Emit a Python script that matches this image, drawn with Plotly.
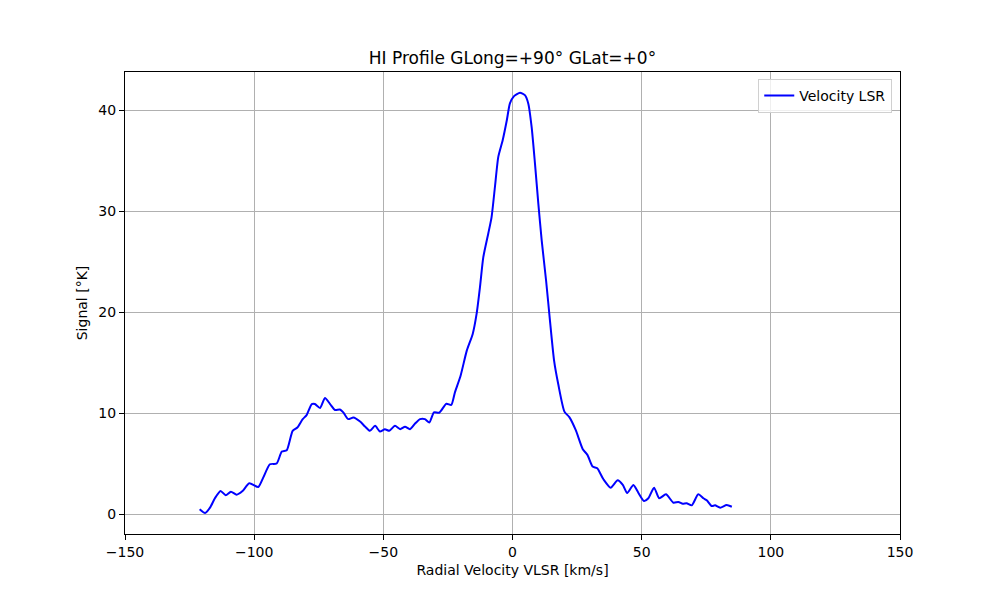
import plotly.graph_objects as go

# HI profile
velocity = [-121.1, -119.0, -117.1, -115.2, -113.0, -111.0, -109.0, -106.8, -104.5, -101.9,
            -98.4, -96.5, -93.9, -91.3, -89.3, -87.4, -85.1, -83.3, -81.2, -79.7,
            -77.7, -76.5, -74.5, -72.6, -70.6, -68.7, -66.8, -65.5, -63.6, -61.6,
            -59.0, -57.1, -55.2, -53.2, -51.3, -49.4, -47.7, -45.5, -43.5, -41.6,
            -39.7, -37.7, -35.8, -33.9, -32.2, -30.4, -28.4, -25.6, -23.7, -22.3,
            -20.1, -17.7, -15.4, -13.9, -12.6, -11.3, -9.4, -8.1, -6.8, -5.5,
            -3.8, -2.2, -1.0, 0.6, 2.9, 4.8, 6.1, 7.4, 8.7, 10.0,
            11.3, 13.0, 14.5, 16.1, 17.7, 20.1, 22.0, 24.5, 27.2, 29.0,
            31.0, 32.8, 35.2, 38.0, 40.7, 42.7, 44.4, 46.8, 48.7, 50.9,
            52.6, 54.8, 56.8, 59.4, 62.3, 64.2, 65.9, 67.4, 69.4, 71.9,
            73.9, 75.2, 77.1, 78.4, 80.4, 82.9, 84.9]
signal = [0.47, 0.1, 0.63, 1.56, 2.28, 1.85, 2.21, 1.92, 2.28, 3.04,
          2.68, 3.6, 4.93, 5.0, 6.18, 6.32, 8.24, 8.57, 9.4, 9.8,
          10.89, 10.89, 10.5, 11.48, 10.89, 10.3, 10.35, 10.06, 9.4, 9.56,
          9.16, 8.67, 8.24, 8.73, 8.17, 8.4, 8.24, 8.73, 8.4, 8.64,
          8.4, 8.96, 9.4, 9.4, 9.06, 10.06, 10.03, 10.92, 10.8, 12.04,
          13.7, 16.18, 17.84, 19.82, 22.46, 25.44, 27.76, 29.41, 32.39, 35.37,
          37.02, 39.0, 40.67, 41.39, 41.72, 41.49, 40.67, 38.34, 34.71, 30.74,
          27.1, 23.13, 19.16, 15.19, 12.87, 10.14, 9.6, 8.3, 6.42, 5.86,
          4.7, 4.53, 3.44, 2.61, 3.34, 2.88, 2.08, 2.88, 2.11, 1.29,
          1.56, 2.61, 1.56, 1.95, 1.12, 1.19, 1.02, 1.06, 0.86, 1.95,
          1.56, 1.36, 0.79, 0.86, 0.63, 0.89, 0.72]

x_ticks = [-150, -100, -50, 0, 50, 100, 150]
y_ticks = [0, 10, 20, 30, 40]

fig = go.Figure()
fig.add_trace(go.Scatter(
    x=velocity, y=signal,
    mode="lines",
    name="Velocity LSR",
    line=dict(color="blue", width=2, shape="spline", smoothing=0.6),
))

axis_style = dict(
    showline=True, linecolor="black", linewidth=1, mirror=True,
    ticks="outside", ticklen=5, tickcolor="black", tickwidth=1,
    showgrid=True, gridcolor="#b0b0b0", gridwidth=1,
    zeroline=False,
    tickfont=dict(family="DejaVu Sans", size=14, color="black"),
)

fig.update_xaxes(
    range=[-150, 150], tickvals=x_ticks,
    title=dict(text="Radial Velocity VLSR [km/s]", standoff=6,
               font=dict(family="DejaVu Sans", size=14, color="black")),
    **axis_style,
)
fig.update_yaxes(
    range=[-1.98, 43.78], tickvals=y_ticks,
    title=dict(text="Signal [°K]", standoff=7,
               font=dict(family="DejaVu Sans", size=14, color="black")),
    **axis_style,
)

# page body has an 8px margin, so the plot area is shifted back by 8px
fig.update_layout(
    width=1000, height=600,
    margin=dict(l=117, r=108, t=64, b=74),
    paper_bgcolor="white", plot_bgcolor="white",
    font=dict(family="DejaVu Sans", size=14, color="black"),
    title=dict(text="HI Profile GLong=+90° GLat=+0°", x=0.5, xref="paper",
               y=1 - 50 / 600, yref="container", yanchor="middle",
               font=dict(family="DejaVu Sans", size=17, color="black")),
    legend=dict(x=0.99, y=0.985, xanchor="right", yanchor="top",
                bgcolor="rgba(255,255,255,0.8)", bordercolor="#d0d0d0", borderwidth=1,
                font=dict(family="DejaVu Sans", size=14, color="black")),
    showlegend=True,
)

fig.write_html("out.html")
